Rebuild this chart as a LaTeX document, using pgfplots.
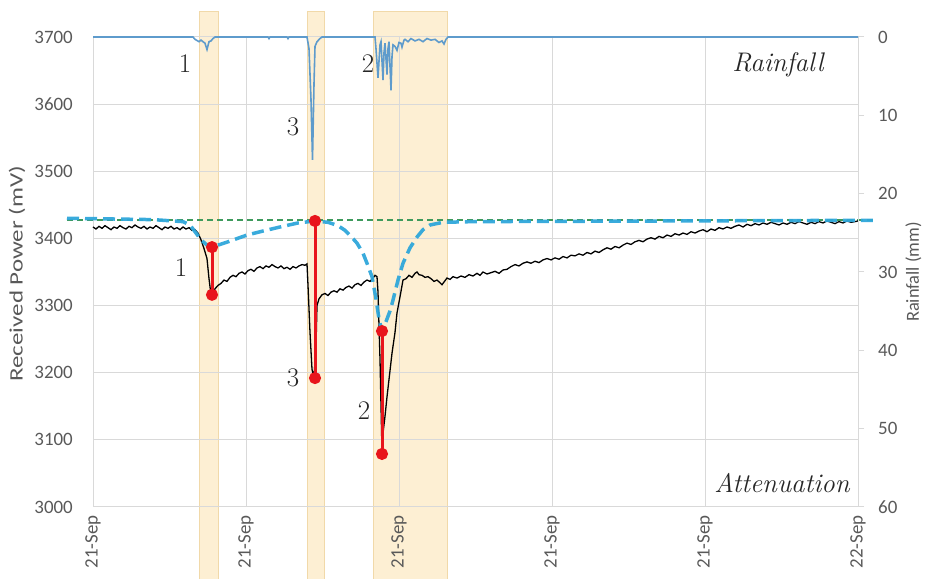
\documentclass[border=0pt]{standalone}
\usepackage{pgfplots}
\pgfplotsset{compat=1.18}
\usepackage{graphicx}
\usepackage{fontspec}
\newfontfamily\calibri{Carlito}
\definecolor{gridgray}{HTML}{D9D9D9}
\definecolor{ticktext}{HTML}{595959}
\definecolor{labeltext}{HTML}{262626}
\definecolor{bandfill}{HTML}{FDEFD3}
\definecolor{bandedge}{HTML}{F1D9A9}
\definecolor{rainblue}{HTML}{5E9BCC}
\definecolor{basecyan}{HTML}{2FA7DA}
\definecolor{refgreen}{HTML}{3E9A5C}
\definecolor{peakred}{HTML}{E8151C}

% received power (mV) against time
\pgfplotstableread{
x y
0 3417
3 3414
6 3418
9 3415
12 3419
15 3416
18 3413
21 3417
24 3415
27 3419
30 3416
33 3414
36 3418
39 3416
42 3420
45 3417
48 3415
51 3418
54 3414
57 3417
60 3415
63 3419
66 3416
69 3413
72 3417
75 3415
78 3418
81 3414
84 3416
87 3413
90 3417
93 3414
96 3416
99 3412
102 3413
105 3408
108 3398
111 3385
114 3370
116 3340
118 3316
120 3318
122 3325
125 3330
128 3333
131 3338
134 3336
137 3342
140 3345
143 3343
146 3348
149 3350
152 3347
155 3352
158 3354
161 3351
164 3356
167 3358
170 3355
173 3359
176 3357
179 3361
182 3358
185 3356
188 3359
191 3355
194 3357
197 3354
200 3358
203 3356
206 3359
209 3361
212 3360
214 3362
215 3330
217 3260
219 3205
221 3193
223 3240
224 3300
226 3310
229 3316
232 3318
235 3315
238 3320
241 3322
244 3320
247 3325
250 3323
253 3327
256 3329
259 3326
262 3331
265 3333
268 3330
271 3335
274 3338
277 3336
280 3341
282 3345
284 3343
285 3320
287 3220
289 3081
290 3110
292 3135
294 3164
296 3190
299 3229
302 3260
304 3289
307 3313
310 3338
313 3340
316 3345
319 3342
322 3348
324 3350
326 3346
329 3345
332 3342
335 3343
338 3340
341 3336
344 3338
347 3334
349 3331
351 3335
354 3341
357 3339
360 3343
364 3341
368 3344
372 3342
376 3346
380 3344
384 3348
387 3345
390 3350
394 3347
398 3349
402 3351
406 3348
410 3353
414 3354
418 3358
422 3361
426 3359
430 3363
434 3365
438 3363
442 3366
446 3364
450 3368
454 3370
458 3368
462 3371
466 3369
470 3373
474 3371
478 3375
482 3374
486 3377
490 3375
494 3379
498 3377
502 3381
506 3379
510 3383
514 3386
518 3384
522 3388
526 3386
530 3390
534 3393
538 3391
542 3395
546 3397
550 3395
554 3399
558 3401
562 3399
566 3403
570 3401
574 3405
578 3403
582 3407
586 3405
590 3408
594 3406
598 3410
602 3408
606 3411
610 3413
614 3410
618 3414
622 3412
626 3416
630 3414
634 3417
638 3415
642 3418
646 3420
650 3417
654 3421
658 3419
662 3422
666 3420
670 3423
674 3421
678 3424
682 3422
686 3420
690 3423
694 3421
698 3424
702 3422
706 3425
710 3423
714 3421
718 3424
722 3422
726 3425
730 3423
734 3426
738 3424
742 3422
746 3425
750 3423
754 3426
758 3424
762 3425
765 3426
}\power

% estimated rain-free baseline (mV)
\pgfplotstableread{
x y
-26 3430
60 3428
90 3425
97 3420
102 3410
108 3398
114 3390
119 3387
135 3395
154 3405
170 3411
187 3417
205 3423
222 3426
235 3424
245 3419
252 3412
258 3403
264 3393
270 3378
274 3363
279 3343
283 3310
286 3280
289 3262
292 3272
297 3292
300 3308
305 3338
310 3363
317 3386
324 3402
330 3413
337 3420
350 3424
380 3425
782 3427
}\baseline

% rainfall (mm)
\pgfplotstableread{
x y
0 0
100 0
102 0.3
106 0.6
108 0.4
112 0.8
114 1.6
116 0.6
118 0.5
120 0.2
122 0
175 0
176 0.2
177 0
194 0
195 0.2
196 0
214 0
216 1.5
218 8
219.5 15.7
221 6
222 1.2
224 0.6
227 0.2
229 0
282 0
283 1.5
285 5.2
287 1.0
288 0.6
290 5.5
291 2
292 0.8
294 4.8
295 1.5
296 0.6
298 6.8
299 2.5
300 1.0
302 1.2
304 1.7
306 0.7
308 0.8
309 1.3
311 0.4
312 0.3
315 0.6
318 0.2
322 0.5
326 0.3
330 0.6
334 0.2
338 0.4
342 0.3
346 0.7
349 0.5
351 0.9
353 0.3
355 0
765 0
}\rain

\begin{document}
\begin{tikzpicture}
\pgfplotsset{
  twin/.style={
    width=765bp, height=470bp, scale only axis,
    xmin=0, xmax=765, clip=false,
    tick label style={font=\calibri\fontsize{19}{22}\selectfont, text=ticktext, inner sep=0pt},
    /pgf/number format/assume math mode=true,
    /pgf/number format/1000 sep={},
  }
}
\begin{axis}[twin, set layers,
  ymin=3000, ymax=3700,
  xtick={0,153,306,459,612,765},
  xticklabels={21-Sep,21-Sep,21-Sep,21-Sep,21-Sep,22-Sep},
  ytick={3000,3100,...,3700},
  grid=major, major grid style={gridgray, line width=1bp},
  axis line style={draw=none}, major tick length=0pt,
  xticklabel style={rotate=90, anchor=east},
  xticklabel shift=8bp, yticklabel shift=20bp,
  every axis y label/.style={at={(rel axis cs:-0.0993,0.496)}, rotate=90, anchor=center,
    font=\calibri\fontsize{19}{23}\selectfont, text=ticktext},
  ylabel={\scalebox{1.32}[1]{Received Power (mV)}},
]
% rain event windows, kept behind grid and labels
\addplot[on layer=axis background, fill=bandfill, draw=bandedge, line width=0.8bp]
  coordinates {(106,2892.8) (125,2892.8) (125,3738.7) (106,3738.7)} -- cycle;
\addplot[on layer=axis background, fill=bandfill, draw=bandedge, line width=0.8bp]
  coordinates {(214,2892.8) (231,2892.8) (231,3738.7) (214,3738.7)} -- cycle;
\addplot[on layer=axis background, fill=bandfill, draw=bandedge, line width=0.8bp]
  coordinates {(280,2892.8) (354,2892.8) (354,3738.7) (280,3738.7)} -- cycle;

% clear-sky reference level
\addplot[refgreen, line width=2bp, dash pattern=on 6bp off 4bp] coordinates {(-26,3427) (782,3427)};
% measured power
\addplot[black, line width=1.3bp] table {\power};
% attenuation at each event
\addplot[peakred, line width=3bp, mark=*, mark size=4.5bp] coordinates {(119,3387) (119,3316)};
\addplot[peakred, line width=3bp, mark=*, mark size=4.5bp] coordinates {(222,3426) (222,3192)};
\addplot[peakred, line width=3bp, mark=*, mark size=4.5bp] coordinates {(289,3262) (289,3079)};
% baseline
\addplot[basecyan, line width=3.5bp, dash pattern=on 12bp off 6bp, opacity=0.95] table {\baseline};

\node[font=\fontsize{27}{30}\selectfont, text=labeltext] at (axis cs:92,3661) {1};
\node[font=\fontsize{27}{30}\selectfont, text=labeltext] at (axis cs:88,3356) {1};
\node[font=\fontsize{27}{30}\selectfont, text=labeltext] at (axis cs:200,3566) {3};
\node[font=\fontsize{27}{30}\selectfont, text=labeltext] at (axis cs:200,3192) {3};
\node[font=\fontsize{27}{30}\selectfont, text=labeltext] at (axis cs:275,3661) {2};
\node[font=\fontsize{27}{30}\selectfont, text=labeltext] at (axis cs:271,3144) {2};
\node[font=\fontsize{27}{30}\selectfont\itshape, text=labeltext] at (axis cs:685,3658) {Rainfall};
\node[font=\fontsize{27}{30}\selectfont\itshape, text=labeltext] at (axis cs:689,3036) {Attenuation};

\coordinate (bbsw) at (axis cs:-93,2892.8);
\coordinate (bbne) at (axis cs:832,3755.1);
\end{axis}

\begin{axis}[twin,
  ymin=0, ymax=60, y dir=reverse,
  axis x line=none, axis y line*=right,
  ytick={0,10,...,60},
  axis line style={gridgray, line width=1bp},
  tick style={gridgray, line width=1bp},
  tick align=outside, major tick length=6bp,
  yticklabel shift=14bp,
  every axis y label/.style={at={(rel axis cs:1.0725,0.5)}, rotate=90, anchor=center,
    font=\calibri\fontsize{18.5}{22}\selectfont, text=ticktext},
  ylabel={Rainfall (mm)},
]
\addplot[rainblue, line width=1.6bp] table {\rain};
\end{axis}
\pgfresetboundingbox
\useasboundingbox (bbsw) rectangle (bbne);
\end{tikzpicture}
\end{document}
